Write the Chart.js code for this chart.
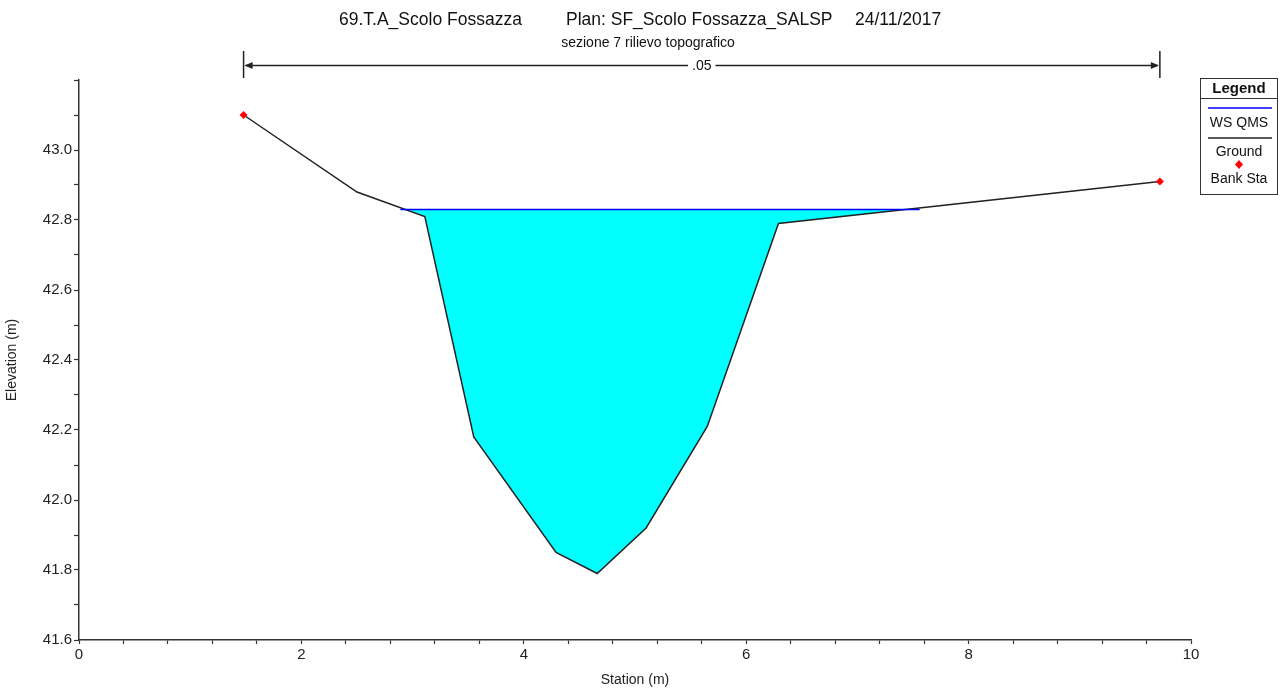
<!DOCTYPE html>
<html>
<head>
<meta charset="utf-8">
<script src="https://cdn.jsdelivr.net/npm/chart.js@4.4.1/dist/chart.umd.min.js"></script>
<style>
html,body{margin:0;padding:0;background:#fff;}
#wrap{width:1281px;height:693px;position:relative;}
</style>
</head>
<body>
<div id="wrap"><canvas id="c"></canvas></div>
<script>
// ---- data ----
const groundStation = [1.48, 2.50, 3.11, 3.55, 4.29, 4.66, 5.10, 5.65, 6.29, 9.72];
const groundElev    = [43.10, 42.88, 42.81, 42.18, 41.85, 41.79, 41.92, 42.21, 42.79, 42.91];
const wsStation = [2.89, 7.56];
const wsElev    = [42.83, 42.83];
const bankStation = [1.48, 9.72];
const bankElev    = [43.10, 42.91];
const manningN = ".05";
const xTicksMajor = [0, 2, 4, 6, 8, 10];
const yTicksMajor = [41.6, 41.8, 42.0, 42.2, 42.4, 42.6, 42.8, 43.0];
const titleParts = ["69.T.A_Scolo Fossazza", "Plan: SF_Scolo Fossazza_SALSP", "24/11/2017"];
const subTitle = "sezione 7 rilievo topografico";
const legendItems = ["WS QMS", "Ground", "Bank Sta"];

const FONT = "'Liberation Sans', Arial, sans-serif";
const toXY = (xs, ys) => xs.map((x, i) => ({x: x, y: ys[i]}));

const overlay = {
  id: 'overlay',
  afterDraw(chart) {
    const ctx = chart.ctx;
    const xs = chart.scales.x;
    ctx.save();
    // title
    ctx.fillStyle = '#111';
    ctx.textBaseline = 'alphabetic';
    ctx.textAlign = 'left';
    ctx.font = '17.5px ' + FONT;
    const tx = [339, 566, 855];
    titleParts.forEach((t, i) => ctx.fillText(t, tx[i], 25));
    ctx.font = '14px ' + FONT;
    ctx.textAlign = 'center';
    ctx.fillText(subTitle, 648, 47);

    // dimension line between bank stations
    const x1 = xs.getPixelForValue(bankStation[0]);
    const x2 = xs.getPixelForValue(bankStation[1]);
    const yl = 65.5;
    ctx.strokeStyle = '#222';
    ctx.fillStyle = '#222';
    ctx.lineWidth = 1.5;
    ctx.beginPath();
    ctx.moveTo(x1, 51); ctx.lineTo(x1, 78);
    ctx.moveTo(x2, 51); ctx.lineTo(x2, 78);
    ctx.moveTo(x1 + 2, yl); ctx.lineTo(x2 - 2, yl);
    ctx.stroke();
    ctx.beginPath();
    ctx.moveTo(x1 + 1, yl); ctx.lineTo(x1 + 9, yl - 3.5); ctx.lineTo(x1 + 9, yl + 3.5); ctx.closePath();
    ctx.moveTo(x2 - 1, yl); ctx.lineTo(x2 - 9, yl - 3.5); ctx.lineTo(x2 - 9, yl + 3.5); ctx.closePath();
    ctx.fill();
    ctx.font = '14px ' + FONT;
    const lx = (x1 + x2) / 2;
    const w = ctx.measureText(manningN).width;
    ctx.fillStyle = '#fff';
    ctx.fillRect(lx - w / 2 - 4, yl - 8, w + 8, 16);
    ctx.fillStyle = '#111';
    ctx.textAlign = 'center';
    ctx.textBaseline = 'middle';
    ctx.fillText(manningN, lx, yl + 1);

    // legend box
    const L = 1200.5, R = 1277.5, T = 78.5, B = 194.5, cx = (L + R) / 2;
    ctx.fillStyle = '#fff';
    ctx.fillRect(L, T, R - L, B - T);
    ctx.strokeStyle = '#333';
    ctx.lineWidth = 1;
    ctx.strokeRect(L, T, R - L, B - T);
    ctx.beginPath();
    ctx.moveTo(L, 98.5); ctx.lineTo(R, 98.5);
    ctx.stroke();
    ctx.fillStyle = '#111';
    ctx.font = 'bold 15px ' + FONT;
    ctx.fillText('Legend', cx, 89);
    ctx.font = '14px ' + FONT;
    ctx.strokeStyle = '#0000ff';
    ctx.lineWidth = 1.5;
    ctx.beginPath(); ctx.moveTo(1208, 108); ctx.lineTo(1272, 108); ctx.stroke();
    ctx.fillText(legendItems[0], cx, 123);
    ctx.strokeStyle = '#222';
    ctx.beginPath(); ctx.moveTo(1208, 138); ctx.lineTo(1272, 138); ctx.stroke();
    ctx.fillText(legendItems[1], cx, 152);
    ctx.fillStyle = '#ff0000';
    ctx.beginPath();
    ctx.moveTo(cx, 160); ctx.lineTo(cx + 4, 164.5); ctx.lineTo(cx, 169); ctx.lineTo(cx - 4, 164.5); ctx.closePath();
    ctx.fill();
    ctx.fillStyle = '#111';
    ctx.fillText(legendItems[2], cx, 179);
    ctx.restore();
  }
};

new Chart(document.getElementById('c'), {
  type: 'scatter',
  data: {
    datasets: [
      {
        label: legendItems[2],
        data: toXY(bankStation, bankElev),
        showLine: false,
        pointStyle: 'rectRot',
        pointRadius: 4,
        backgroundColor: '#ff0000',
        borderColor: '#ff0000',
        borderWidth: 0,
        order: 0
      },
      {
        label: legendItems[0],
        data: toXY(wsStation, wsElev),
        showLine: true,
        borderColor: '#0000ff',
        borderWidth: 1.5,
        pointRadius: 0,
        fill: {target: 2, above: '#00ffff', below: 'rgba(0,0,0,0)'},
        order: 1
      },
      {
        label: legendItems[1],
        data: toXY(groundStation, groundElev),
        showLine: true,
        borderColor: '#222222',
        borderWidth: 1.5,
        pointRadius: 0,
        tension: 0,
        fill: false,
        order: 2
      }
    ]
  },
  options: {
    responsive: true,
    maintainAspectRatio: false,
    animation: false,
    layout: {padding: {top: 80, right: 90, left: 0, bottom: 0}},
    plugins: {
      legend: {display: false},
      tooltip: {enabled: false},
      title: {display: false},
      filler: {drawTime: 'beforeDatasetsDraw'}
    },
    scales: {
      x: {
        type: 'linear',
        min: xTicksMajor[0],
        max: xTicksMajor[xTicksMajor.length - 1],
        border: {display: true, color: '#333', width: 1.5},
        grid: {display: true, drawOnChartArea: false, drawTicks: true, tickLength: 4, color: '#333', tickWidth: 1.2},
        ticks: {
          stepSize: 0.4,
          autoSkip: false,
          maxRotation: 0,
          padding: 2,
          color: '#222',
          font: {family: FONT, size: 15},
          callback: (v) => xTicksMajor.some(t => Math.abs(t - v) < 1e-6) ? String(Math.round(v)) : ''
        },
        title: {display: true, text: 'Station (m)', color: '#222', font: {family: FONT, size: 14}, padding: {top: 9}},
        afterFit: (s) => { s.height = 53; }
      },
      y: {
        type: 'linear',
        min: 41.6,
        max: 43.2,
        border: {display: true, color: '#333', width: 1.5},
        grid: {display: true, drawOnChartArea: false, drawTicks: true, tickLength: 5, color: '#333', tickWidth: 1.2},
        ticks: {
          stepSize: 0.1,
          autoSkip: false,
          padding: 2,
          color: '#222',
          font: {family: FONT, size: 15},
          callback: (v) => yTicksMajor.some(t => Math.abs(t - v) < 1e-6) ? v.toFixed(1) : ''
        },
        title: {display: true, text: 'Elevation (m)', color: '#222', font: {family: FONT, size: 14}, padding: {bottom: 6}},
        afterFit: (s) => { s.width = 79; }
      }
    }
  },
  plugins: [overlay]
});
</script>
</body>
</html>
